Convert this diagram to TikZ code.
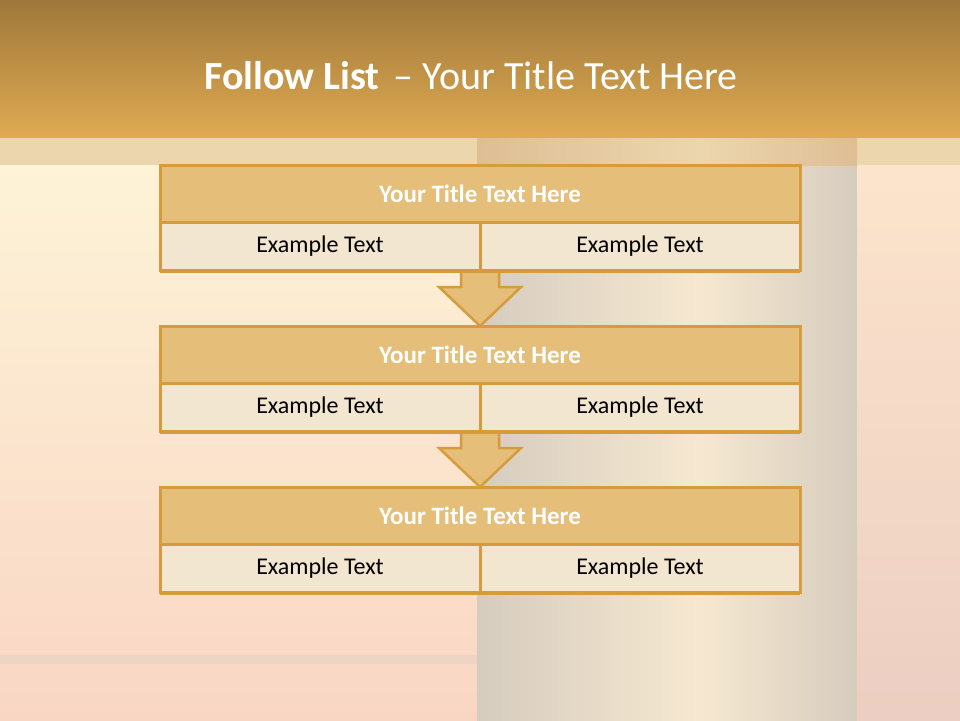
\documentclass[tikz,border=0pt]{standalone}
\usepackage{fontspec}
\setmainfont{Carlito}
\usetikzlibrary{positioning,calc}
\definecolor{bandtop}{RGB}{158,120,58}
\definecolor{bandbot}{RGB}{223,170,82}
\definecolor{stripe}{RGB}{236,214,174}
\definecolor{stripedark}{RGB}{222,190,148}
\definecolor{glowtop}{RGB}{253,243,215}
\definecolor{glowbot}{RGB}{249,214,196}
\definecolor{pillar}{RGB}{214,204,190}
\definecolor{pillarlight}{RGB}{246,232,208}
\definecolor{sidetop}{RGB}{252,228,204}
\definecolor{sidebot}{RGB}{236,206,194}
\definecolor{titlegold}{RGB}{229,190,122}
\definecolor{cellcream}{RGB}{243,230,208}
\definecolor{edgegold}{RGB}{214,155,58}
\tikzset{
  titlebox/.style={
    draw=edgegold,
    line width=3pt,
    fill=titlegold,
    minimum width=640pt,
    minimum height=57pt,
    inner sep=0pt,
    outer sep=0pt,
    text=white,
    font=\fontsize{25}{30}\selectfont\bfseries
  },
  cellbox/.style={
    draw=edgegold,
    line width=3pt,
    fill=cellcream,
    minimum width=320pt,
    minimum height=48pt,
    inner sep=0pt,
    outer sep=0pt,
    font=\fontsize{24}{29}\selectfont
  },
  flowarrow/.style={
    draw=edgegold,
    line width=2.5pt,
    fill=titlegold,
    line join=miter
  },
  shadowline/.style={draw=edgegold, line width=2.5pt}
}
% arrow between two boxes: #1 foot of upper box, #2 head of lower box
\newcommand{\flowstep}[2]{%
  \draw[flowarrow] ($(#1)+(-19,0)$) -- ($(#1)+(-19,17)$) -- ($(#1)+(-41,17)$)
    -- (#2) -- ($(#1)+(41,17)$) -- ($(#1)+(19,17)$) -- ($(#1)+(19,0)$);
}
\begin{document}
\begin{tikzpicture}[x=1pt, y=-1pt]
  \useasboundingbox (0,0) rectangle (960,720);
  % background
  \shade[top color=glowtop, bottom color=glowbot] (0,165) rectangle (477,720);
  \shade[left color=pillar, right color=pillarlight] (477,165) rectangle (700,720);
  \shade[left color=pillarlight, right color=pillar] (700,165) rectangle (857,720);
  \shade[top color=sidetop, bottom color=sidebot] (857,165) rectangle (960,720);
  \fill[pillar, opacity=0.3] (0,655) rectangle (477,664);
  \fill[stripe] (0,137) rectangle (960,165);
  \shade[left color=stripedark, right color=stripe] (477,137) rectangle (700,165);
  \shade[left color=stripe, right color=stripedark] (700,137) rectangle (857,165);
  \shade[top color=bandtop, bottom color=bandbot] (0,0) rectangle (960,137);
  \node[text=white, font=\fontsize{40}{48}\selectfont] (heading) at (471,76)
    {\textbf{Follow List}\hspace{5pt} – Your Title Text Here};
  % connectors
  \coordinate (foot1) at (480,270);
  \coordinate (head2) at (480,326);
  \coordinate (foot2) at (480,431);
  \coordinate (head3) at (480,487);
  \flowstep{foot1}{head2}
  \flowstep{foot2}{head3}
  % boxes
  \foreach \i/\top in {1/165,2/326,3/487} {
    \node[titlebox] (title\i) at (480,\top+28.5) {Your Title Text Here};
    \node[cellbox, anchor=north west] (left\i) at (title\i.south west) {Example Text};
    \node[cellbox, anchor=north east] (right\i) at (title\i.south east) {Example Text};
    \draw[shadowline] ($(left\i.south west)+(0,1.5)$) -- ($(right\i.south east)+(0,1.5)$);
  }
\end{tikzpicture}
\end{document}
